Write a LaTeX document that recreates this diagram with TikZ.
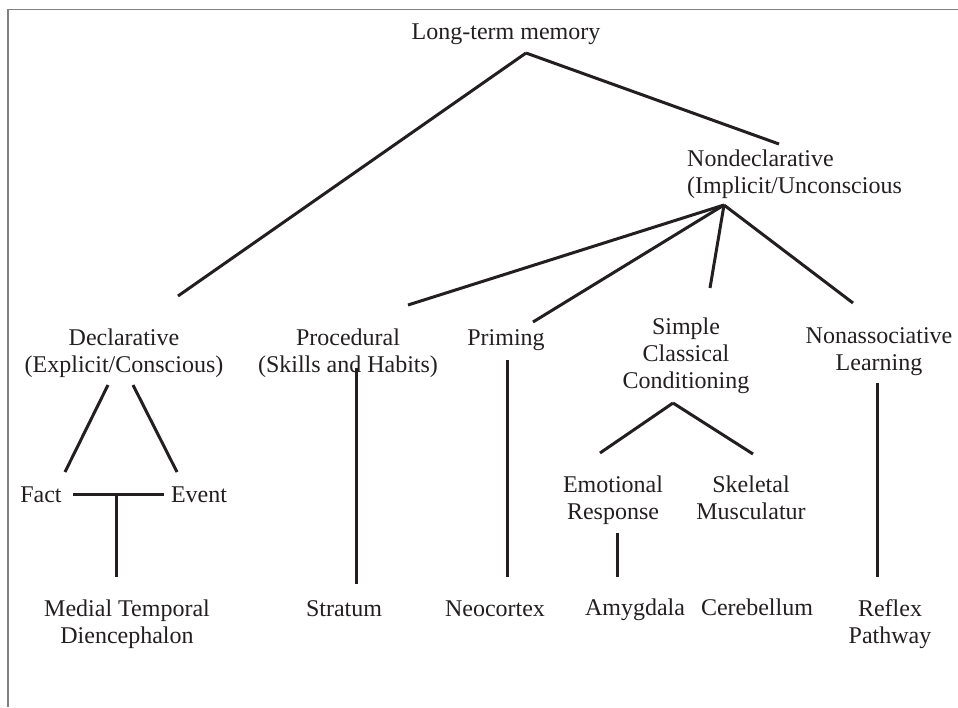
\documentclass[tikz,border=0pt]{standalone}
\usepackage{fontspec}
\setmainfont{Liberation Serif}
\usetikzlibrary{positioning}
\definecolor{ink}{HTML}{231F20}

\begin{document}
\begin{tikzpicture}[x=1pt,y=-1pt,inner sep=0pt,
  every node/.style={font=\fontsize{24}{27}\selectfont,text=ink,align=center,anchor=base},
  branch/.style={draw=ink,line width=3pt}]
  \useasboundingbox (0,0) rectangle (958,707);
  \draw[gray,line width=1.5pt] (8,707) -- (8,9.5) -- (958,9.5);

  % labels (base = last line)
  \node (ltm)    at (506,39)  {Long-term memory};
  \node (nond) [align=left,anchor=base west] at (687,193) {Nondeclarative\\(Implicit/Unconscious};
  \node (decl)   at (124,372) {Declarative\\(Explicit/Conscious)};
  \node (proc)   at (348,372) {Procedural\\(Skills and Habits)};
  \node (prim)   at (506,345) {Priming};
  \node (scc)    at (686,388) {Simple\\Classical\\Conditioning};
  \node (nona)   at (879,370) {Nonassociative\\Learning};
  \node (fact)   at (41,502)  {Fact};
  \node (event)  at (199,502) {Event};
  \node (emo)    at (613,519) {Emotional\\Response};
  \node (skel)   at (751,519) {Skeletal\\Musculatur};
  \node (mtd)    at (127,643) {Medial Temporal\\Diencephalon};
  \node (strat)  at (344,616) {Stratum};
  \node (neo)    at (495,616) {Neocortex};
  \node (amyg)   at (635,615) {Amygdala};
  \node (cereb)  at (757,615) {Cerebellum};
  \node (reflex) at (890,643) {Reflex\\Pathway};

  % branch points
  \coordinate (ltm-f)    at (526,53);
  \coordinate (decl-t)   at (178,296);
  \coordinate (nond-t)   at (779,144);
  \coordinate (nond-f)   at (724,205);
  \coordinate (proc-t)   at (408,305);
  \coordinate (prim-t)   at (533,322);
  \coordinate (scc-t)    at (710,288);
  \coordinate (nona-t)   at (853,303);
  \coordinate (decl-l)   at (108,385);
  \coordinate (decl-r)   at (133,385);
  \coordinate (fact-t)   at (65,472);
  \coordinate (event-t)  at (177,472);
  \coordinate (fe-m)     at (116,494);
  \coordinate (mtd-t)    at (116,577);
  \coordinate (proc-b)   at (356,368);
  \coordinate (strat-t)  at (356,584);
  \coordinate (prim-b)   at (507,360);
  \coordinate (neo-t)    at (507,577);
  \coordinate (scc-f)    at (673,403);
  \coordinate (emo-t)    at (600,453);
  \coordinate (skel-t)   at (753,454);
  \coordinate (emo-b)    at (617,533);
  \coordinate (amyg-t)   at (617,577);
  \coordinate (nona-b)   at (877,383);
  \coordinate (reflex-t) at (877,577);

  \path[branch]
    (ltm-f)  edge (decl-t)
    (ltm-f)  edge (nond-t)
    (nond-f) edge (proc-t)
    (nond-f) edge (prim-t)
    (nond-f) edge (scc-t)
    (nond-f) edge (nona-t)
    (decl-l) edge (fact-t)
    (decl-r) edge (event-t)
    (fact)   edge [shorten <=11pt,shorten >=7pt] (event)
    (fe-m)   edge (mtd-t)
    (proc-b) edge (strat-t)
    (prim-b) edge (neo-t)
    (scc-f)  edge (emo-t)
    (scc-f)  edge (skel-t)
    (emo-b)  edge (amyg-t)
    (nona-b) edge (reflex-t)
  ;
\end{tikzpicture}
\end{document}
